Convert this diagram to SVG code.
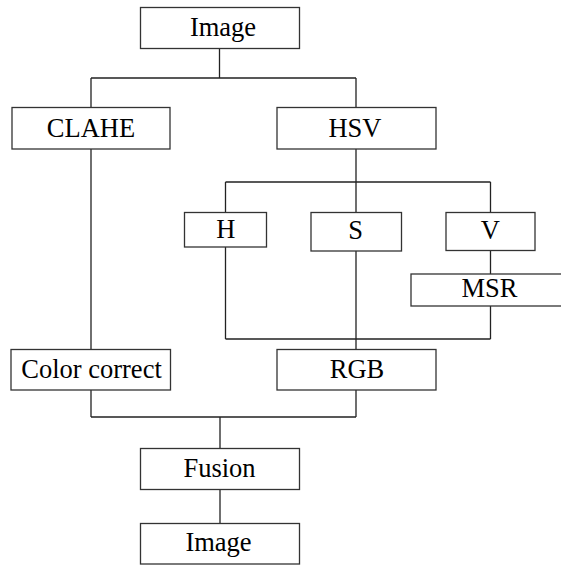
<svg xmlns="http://www.w3.org/2000/svg" width="561" height="565" viewBox="0 0 561 565">
<style>
.box{fill:#fff;stroke:#333;stroke-width:1.3}
.t{font-size:26.5px;fill:#000;text-anchor:middle}
.c{fill:none;stroke:#222;stroke-width:1.3}
</style>
<rect width="561" height="565" fill="#fff"/>
<g id="connectors">
<path class="c" d="M219.5 48V78M91 78H356M91 78V107M356 78V107"/>
<path class="c" d="M91 149V349"/>
<path class="c" d="M356 149V182M225.5 182H490.5M225.5 182V212M356 182V212M490.5 182V212"/>
<path class="c" d="M225.5 247V339M356 251V349M490.5 250V274M490.5 306V339M225.5 339H490.5"/>
<path class="c" d="M91 390V417M356 390V417M91 417H356M220 417V448"/>
<path class="c" d="M220 489V523"/>
</g>
<g font-family="Liberation Serif, Tinos, Times, DejaVu Serif, Noto Serif, serif">
<g id="image-top"><rect class="box" x="140.5" y="7.5" width="159" height="41"/><text class="t" x="223" y="36">Image</text></g>
<g id="clahe"><rect class="box" x="12" y="107.5" width="158" height="41.5"/><text class="t" x="91" y="136.7">CLAHE</text></g>
<g id="hsv"><rect class="box" x="277" y="107.5" width="159" height="41.5"/><text class="t" x="355" y="136.7">HSV</text></g>
<g id="h"><rect class="box" x="184.5" y="212.5" width="82" height="34.5"/><text class="t" x="225.7" y="237.7">H</text></g>
<g id="s"><rect class="box" x="311" y="212.5" width="90.5" height="38.5"/><text class="t" x="355.5" y="239.3">S</text></g>
<g id="v"><rect class="box" x="446" y="212.5" width="89" height="38"/><text class="t" x="490.3" y="239">V</text></g>
<g id="msr"><rect class="box" x="411" y="274" width="158" height="32"/><text class="t" x="489.5" y="296.7">MSR</text></g>
<g id="color-correct"><rect class="box" x="11" y="349.5" width="159.5" height="40.5"/><text class="t" x="91.5" y="377.7">Color correct</text></g>
<g id="rgb"><rect class="box" x="277" y="349.5" width="159" height="40.5"/><text class="t" x="357" y="377.7">RGB</text></g>
<g id="fusion"><rect class="box" x="140.5" y="448.5" width="159" height="41"/><text class="t" x="219.5" y="477.3">Fusion</text></g>
<g id="image-bottom"><rect class="box" x="140.5" y="523.5" width="159" height="40.5"/><text class="t" x="218.5" y="551">Image</text></g>
</g>
</svg>
